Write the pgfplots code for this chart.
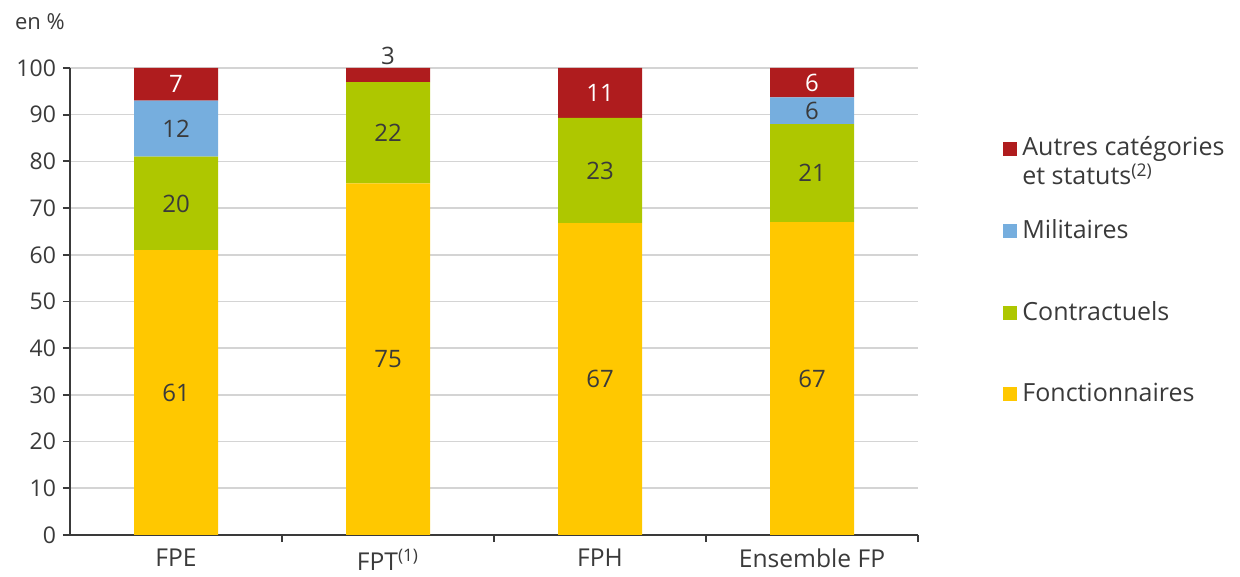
\documentclass[border=0pt]{standalone}
\usepackage{pgfplots}
\usepackage{pgfplotstable}
\pgfplotsset{compat=1.18}
\usepackage{fontspec}
\setmainfont{Open Sans}
\usetikzlibrary{calc}

\definecolor{fonc}{HTML}{FFC800}
\definecolor{cont}{HTML}{AEC700}
\definecolor{mili}{HTML}{76AEDE}
\definecolor{autr}{HTML}{AF1C1E}
\definecolor{txt}{HTML}{3A3A3A}
\definecolor{grd}{HTML}{D4D4D4}

% stacked shares, in %
\pgfplotstableread{
x fonc cont mili autr
0 61   20   12  7
1 75.3 21.7 0   3
2 66.8 22.5 0   10.7
3 67   21   5.7 6.3
}\bars

% value labels (centre of each segment)
\pgfplotstableread{
x y lab
0 30.5 61
0 71 20
0 87 12
1 37.6 75
1 86.2 22
1 102.6 3
2 33.4 67
2 78 23
3 33.5 67
3 77.5 21
3 90.8 6
}\darklabels
\pgfplotstableread{
x y lab
0 96.5 7
2 94.6 11
3 96.8 6
}\lightlabels

\pgfplotsset{base/.style={
    width=424pt, height=233.5pt, scale only axis,
    xmin=-0.5, xmax=3.5, ymin=0, ymax=100}}

\begin{document}
\begin{tikzpicture}
\begin{axis}[base, name=ax,
    ybar stacked, bar width=42pt,
    axis x line*=bottom, axis y line*=left,
    axis line style={txt, line width=1pt},
    ytick={0,10,...,100},
    ymajorgrids, grid style={grd, line width=0.8pt},
    xtick={0.5,1.5,2.5,3.5}, xticklabels={},
    extra x ticks={0,1,2,3},
    extra x tick labels={FPE,FPT\textsuperscript{(1)},FPH,Ensemble FP},
    extra x tick style={major tick length=0pt, grid=none},
    tick align=outside, major tick length=3.5pt,
    tick style={txt, line width=0.9pt},
    x tick label style={font=\fontsize{12.3}{14}\selectfont, text=txt, yshift=-3.5pt},
    y tick label style={font=\fontsize{11.5}{13}\selectfont, text=txt},
    /pgf/number format/assume math mode=true,
]
\addplot[fill=fonc, draw=none] table[x=x, y=fonc] {\bars};
\addplot[fill=cont, draw=none] table[x=x, y=cont] {\bars};
\addplot[fill=mili, draw=none] table[x=x, y=mili] {\bars};
\addplot[fill=autr, draw=none] table[x=x, y=autr] {\bars};
\end{axis}

\begin{axis}[base, hide axis, clip=false]
\addplot[draw=none, mark=none, nodes near coords, point meta=explicit symbolic,
    nodes near coords style={anchor=center, text=txt, font=\fontsize{12}{14}\selectfont}]
    table[x=x, y=y, meta=lab] {\darklabels};
\addplot[draw=none, mark=none, nodes near coords, point meta=explicit symbolic,
    nodes near coords style={anchor=center, text=white, font=\fontsize{12}{14}\selectfont}]
    table[x=x, y=y, meta=lab] {\lightlabels};
\end{axis}

% unit
\node[anchor=west, text=txt, font=\fontsize{11}{13}\selectfont]
    at ($(ax.north west)+(-31pt,23pt)$) {en \%};

% legend
\begin{scope}[shift={(ax.south west)}, every node/.style={anchor=base west, text=txt,
        font=\fontsize{12.5}{15}\selectfont, inner sep=0pt}]
\fill[autr] (466.5pt,189.5pt) rectangle ++(7pt,7pt);
\node at (476pt,189.5pt) {Autres catégories};
\node at (476pt,175pt) {et statuts\textsuperscript{(2)}};
\fill[mili] (466.5pt,148.5pt) rectangle ++(7pt,7pt);
\node at (476pt,148pt) {Militaires};
\fill[cont] (466.5pt,107.5pt) rectangle ++(7pt,7pt);
\node at (476pt,107pt) {Contractuels};
\fill[fonc] (466.5pt,67pt) rectangle ++(7pt,7pt);
\node at (476pt,66.5pt) {Fonctionnaires};
\end{scope}

\pgfresetboundingbox
\path[use as bounding box] ($(ax.south west)+(-35pt,-21pt)$) rectangle ($(ax.north east)+(161pt,34pt)$);
\end{tikzpicture}
\end{document}
